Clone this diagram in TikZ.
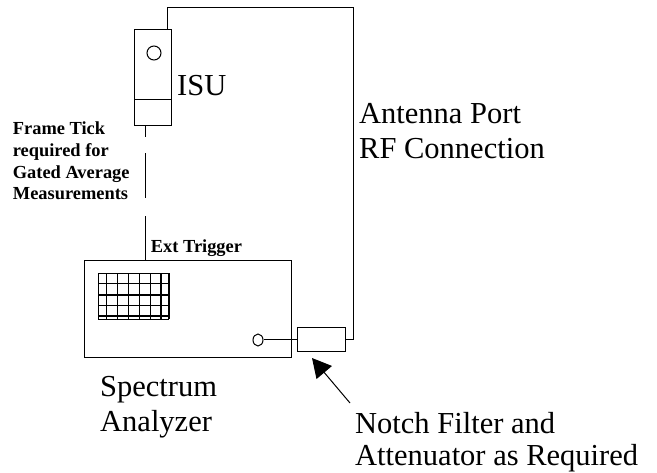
\documentclass[tikz,border=0pt]{standalone}
\usepackage{fontspec}
\setmainfont{Liberation Serif}
\usetikzlibrary{arrows.meta,shapes.geometric}
\begin{document}
\begin{tikzpicture}[x=1pt,y=-1pt,
  wire/.style={line width=1pt},
  box/.style={draw,line width=1pt,inner sep=0pt,minimum width=0pt,minimum height=0pt},
  bigtext/.style={anchor=base west,inner sep=0pt,font=\fontsize{30.5}{35}\selectfont},
  smalltext/.style={anchor=base west,inner sep=0pt,font=\fontsize{18.4}{21.7}\selectfont\bfseries}]
\useasboundingbox (0,0) rectangle (657,473);
% ISU
\node[box,minimum width=37pt,minimum height=96pt] (isu) at (152.5,78) {};
\draw[wire] (134,100) -- (171,100);
\node[box,circle,minimum size=14pt] (isucirc) at (154,53) {};
\node[bigtext] (isulabel) at (177,95.7) {ISU};
% Spectrum analyzer
\node[box,minimum width=207pt,minimum height=97pt] (sa) at (187.5,309.5) {};
\foreach \xx in {98.3,106.7,117.3,128.3,139.3,150.7,161,169}
  \draw[line width=1.3pt] (\xx,273.3) -- (\xx,319.3);
\foreach \yy in {273.3,283.3,295,305.7,316,319.3}
  \draw[line width=1.3pt] (98.3,\yy) -- (169,\yy);
\node[box,ellipse,minimum width=10pt,minimum height=12pt] (port) at (258,340) {};
% filter
\node[box,minimum width=48pt,minimum height=24pt] (filter) at (321,340) {};
% cables
\coordinate (c1) at (167,8);
\coordinate (c2) at (353,8);
\draw[wire] (isu.north -| c1) -- (c1) -- (c2) -- (c2 |- filter.east) -- (filter.east);
\draw[wire] (port.east) -- (filter.west);
\coordinate (t1) at (145,0);
\draw[wire,dash pattern=on 11pt off 16pt on 45pt off 18pt on 60pt] (isu.south -| t1) -- (sa.north -| t1);
% arrow
\coordinate (atail) at (350,403);
\coordinate (atip) at (312,358);
\draw[wire,-{Triangle[length=19pt,width=20pt]}] (atail) -- (atip);
% labels
\node[bigtext] (ant1) at (359,123.3) {Antenna Port};
\node[bigtext] (ant2) at (359,158.3) {RF Connection};
\node[bigtext] (spec1) at (100,396.7) {Spectrum};
\node[bigtext] (spec2) at (100,431.7) {Analyzer};
\node[bigtext] (notch1) at (355,433.5) {Notch Filter and};
\node[bigtext] (notch2) at (355,466) {Attenuator as Required};
\node[smalltext] (ft1) at (12.7,135) {Frame Tick};
\node[smalltext] (ft2) at (12.7,156.7) {required for};
\node[smalltext] (ft3) at (12.7,178.4) {Gated Average};
\node[smalltext] (ft4) at (12.7,200) {Measurements};
\node[smalltext] (ext) at (150.7,252.7) {Ext Trigger};
\end{tikzpicture}
\end{document}
